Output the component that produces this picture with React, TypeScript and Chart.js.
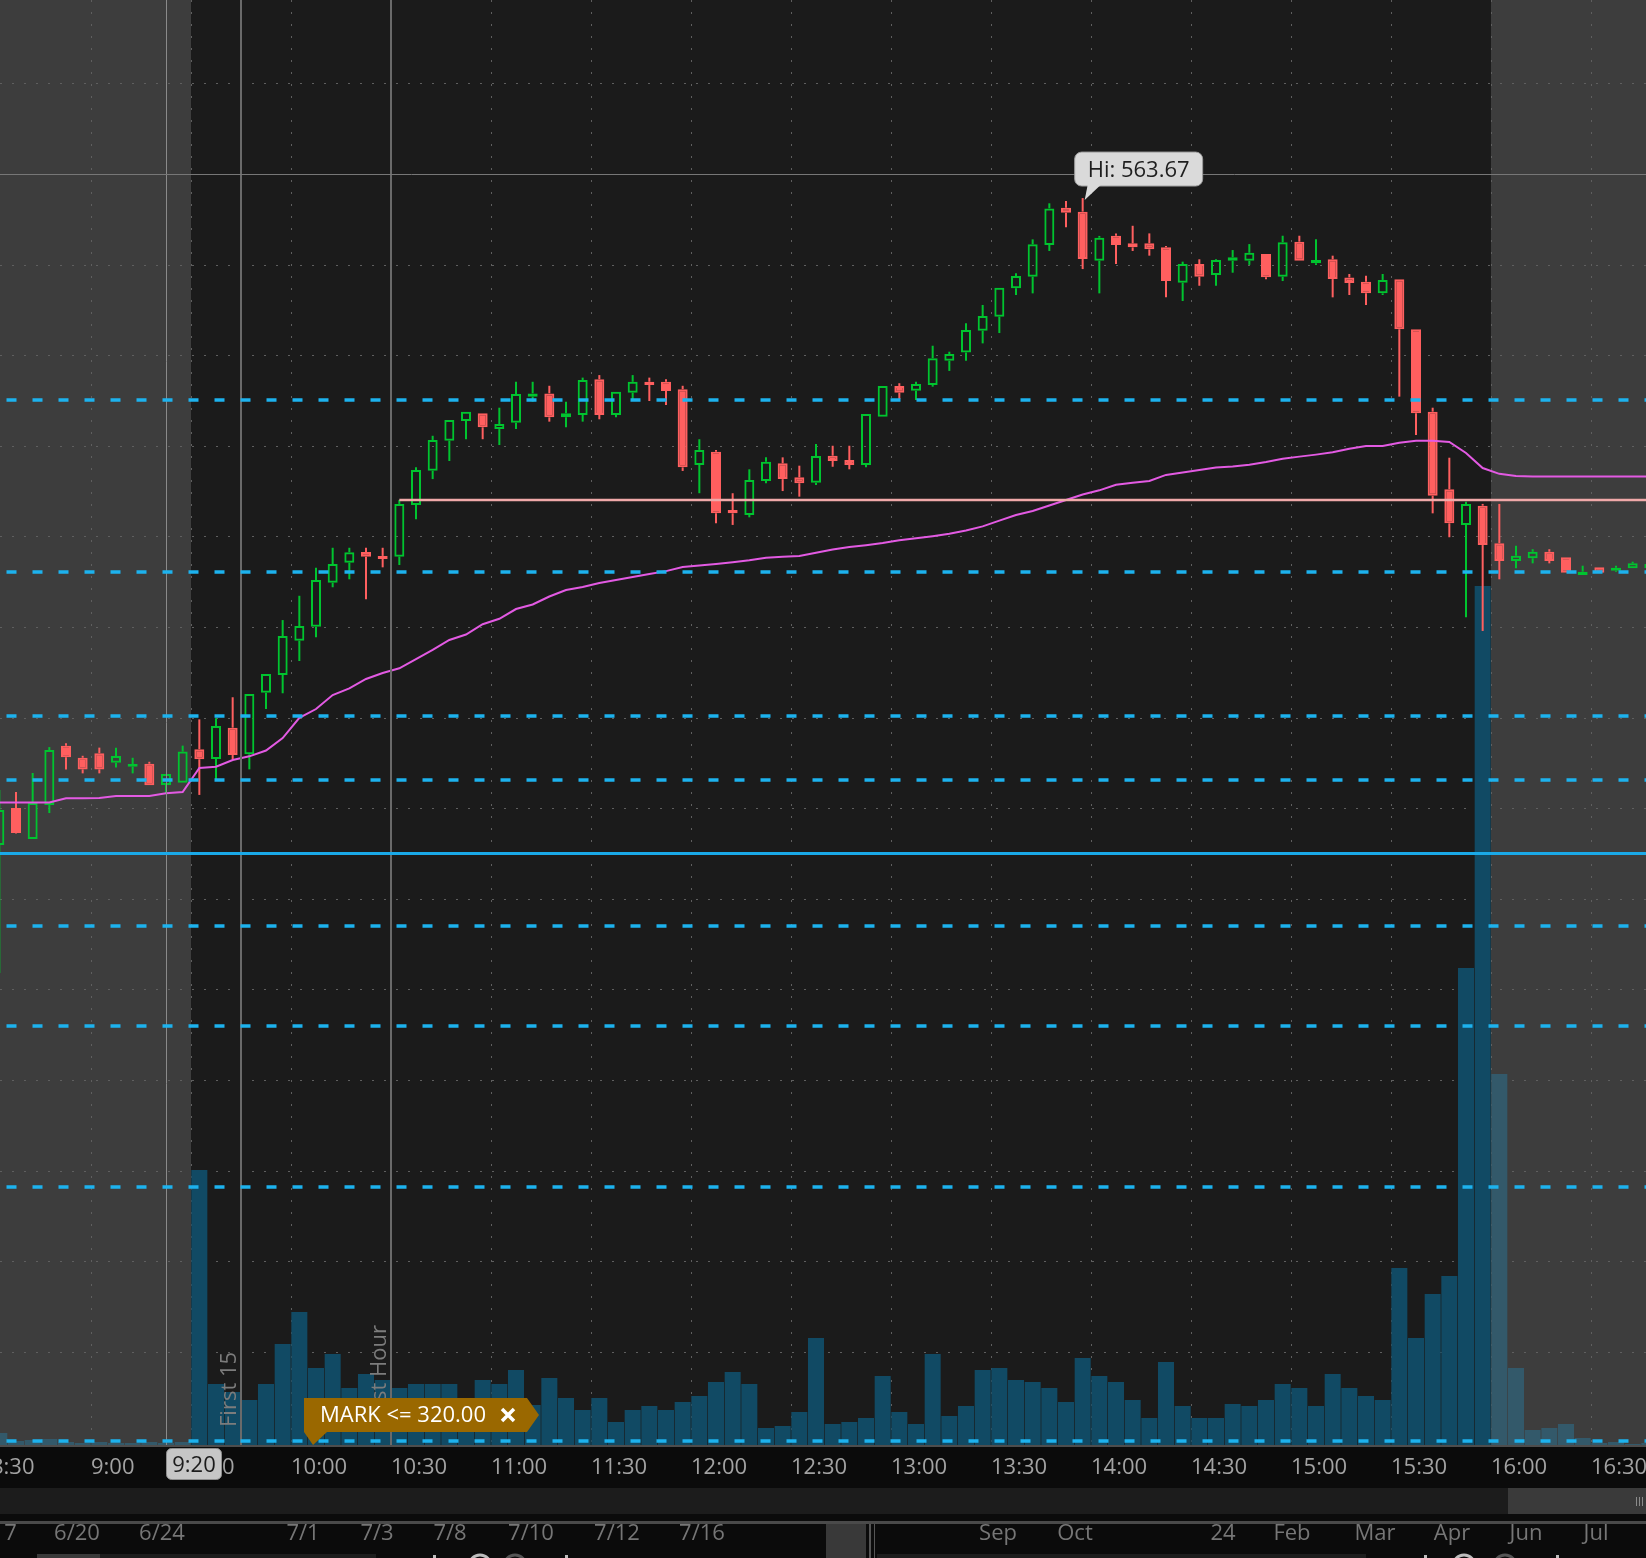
import { useEffect, useRef } from "react";
import { Chart, registerables } from "chart.js";

Chart.register(...registerables);

// ---------- DATA ----------
const times = [
  "08:30","08:35","08:40","08:45","08:50","08:55","09:00","09:05","09:10","09:15","09:20","09:25",
  "09:30","09:35","09:40","09:45","09:50","09:55","10:00","10:05","10:10","10:15","10:20","10:25",
  "10:30","10:35","10:40","10:45","10:50","10:55","11:00","11:05","11:10","11:15","11:20","11:25",
  "11:30","11:35","11:40","11:45","11:50","11:55","12:00","12:05","12:10","12:15","12:20","12:25",
  "12:30","12:35","12:40","12:45","12:50","12:55","13:00","13:05","13:10","13:15","13:20","13:25",
  "13:30","13:35","13:40","13:45","13:50","13:55","14:00","14:05","14:10","14:15","14:20","14:25",
  "14:30","14:35","14:40","14:45","14:50","14:55","15:00","15:05","15:10","15:15","15:20","15:25",
  "15:30","15:35","15:40","15:45","15:50","15:55","16:00","16:05","16:10","16:15","16:20","16:25",
  "16:30","16:35","16:40","16:45"
];
const open = [
  527.97,530.01,528.30,530.17,533.45,532.78,533.03,532.51,532.29,532.45,531.28,531.40,
  533.25,532.71,534.44,532.97,536.37,537.35,539.24,540.01,542.44,543.55,544.14,543.92,
  543.88,546.73,548.62,550.28,551.37,551.79,550.92,551.27,552.71,552.89,551.57,551.70,
  553.67,551.70,552.93,553.53,553.53,553.12,548.94,549.67,546.45,546.18,548.05,549.03,
  548.26,547.96,549.45,549.21,548.94,551.60,553.30,553.04,553.35,554.69,555.14,556.35,
  557.12,558.69,559.33,561.08,563.14,562.92,560.21,561.59,561.17,561.17,560.95,559.00,
  560.03,559.42,560.21,560.21,560.58,559.33,561.26,560.07,560.29,559.29,559.05,558.41,
  559.19,556.43,551.88,547.60,545.63,546.69,544.62,543.64,543.79,544.15,543.84,542.87,
  543.29,543.10,543.24,543.25
];
const high = [
  531.00,530.89,531.94,533.37,533.58,532.89,533.34,533.34,532.78,532.56,531.88,533.45,
  534.90,534.96,536.12,536.30,537.40,540.38,541.72,543.27,544.37,544.37,544.37,544.37,
  547.01,548.81,550.55,551.42,551.88,551.79,552.10,553.53,553.53,553.31,552.43,553.76,
  553.90,552.98,553.90,553.76,553.67,553.31,550.36,549.77,547.38,548.70,549.36,549.36,
  548.90,550.10,550.00,550.00,551.75,553.30,553.45,553.53,555.52,555.19,556.76,557.77,
  558.72,559.52,561.39,563.38,563.51,563.67,561.58,561.72,562.14,561.72,561.02,560.16,
  560.29,560.29,560.80,561.13,560.58,561.59,561.59,561.39,560.49,559.48,559.38,559.48,
  559.19,556.43,552.10,549.34,546.91,546.79,546.79,544.48,544.29,544.29,543.84,543.38,
  543.29,543.38,543.60,543.58
];
const low = [
  520.90,528.60,528.30,529.73,532.14,531.92,531.92,532.25,531.92,531.26,530.82,531.40,
  530.73,531.59,532.70,532.14,535.47,536.34,538.12,539.43,542.19,542.63,541.53,543.29,
  543.42,545.94,548.16,549.16,550.36,550.36,550.04,550.92,552.43,551.33,551.02,551.33,
  551.46,551.57,552.52,552.47,552.25,548.61,547.38,545.72,545.63,546.05,547.93,547.50,
  547.19,547.83,548.84,548.70,548.81,551.60,552.58,552.52,553.26,554.13,554.69,555.65,
  556.22,558.32,558.41,560.75,562.06,559.75,558.41,560.03,560.75,560.49,558.19,557.99,
  558.83,558.83,559.55,559.98,559.19,559.09,560.21,559.98,558.19,558.32,557.77,558.32,
  552.71,550.59,546.27,544.95,540.53,539.78,542.63,543.24,543.51,543.51,542.99,542.87,
  542.99,543.05,543.24,543.25
];
const close = [
  529.90,528.63,530.28,533.21,532.81,532.14,532.14,532.88,532.44,531.26,531.88,533.12,
  532.70,534.53,532.93,536.30,537.40,539.50,540.05,542.59,543.47,544.12,543.88,543.75,
  546.79,548.66,550.32,551.42,551.88,551.02,551.20,552.86,552.89,551.57,551.79,553.63,
  551.70,552.98,553.53,553.35,553.02,548.81,549.77,546.27,546.27,548.11,549.12,548.16,
  547.93,549.43,549.16,548.94,551.75,553.30,552.93,553.41,554.83,555.06,556.39,557.16,
  558.72,559.37,561.12,563.10,562.86,560.31,561.48,561.08,560.95,560.84,559.09,560.03,
  559.33,560.25,560.40,560.65,559.30,561.23,560.21,560.25,559.20,558.98,558.41,559.15,
  556.43,551.79,547.24,545.72,546.79,544.52,543.64,543.93,544.15,543.64,542.99,543.05,
  542.99,543.27,543.51,543.47
];
// volume in thousands of shares
const volume = [
  24,8,10,12,6,4,6,4,4,6,4,6,
  550,122,106,90,122,202,266,154,182,114,142,130,
  114,122,122,122,70,130,122,150,80,134,94,70,
  94,46,70,78,70,86,98,126,146,122,34,38,
  66,214,42,46,54,138,66,42,182,58,78,150,
  154,130,126,114,86,174,138,126,90,54,166,78,
  54,54,82,78,90,122,114,78,142,114,98,90,
  354,214,302,338,954,1718,742,154,30,34,42,14,
  4,6,2,4
];
const vwap = [
  530.31,530.31,530.31,530.31,530.54,530.54,530.56,530.67,530.67,530.67,530.82,530.89,
  532.22,532.29,532.66,532.86,533.18,533.87,534.98,535.47,536.24,536.61,537.13,537.46,
  537.72,538.23,538.73,539.28,539.58,540.15,540.45,540.99,541.24,541.68,542.04,542.20,
  542.43,542.59,542.76,542.92,543.08,543.31,543.39,543.47,543.57,543.68,543.82,543.88,
  543.92,544.10,544.27,544.41,544.51,544.63,544.78,544.89,545.01,545.14,545.32,545.55,
  545.87,546.18,546.40,546.70,547.01,547.31,547.54,547.85,547.96,548.06,548.39,548.52,
  548.66,548.80,548.86,548.95,549.10,549.28,549.40,549.51,549.64,549.84,549.98,549.99,
  550.17,550.28,550.28,550.21,549.60,548.77,548.45,548.33,548.30,548.30,548.30,548.30,
  548.30,548.30,548.30,548.30
];

const axisTimes = ["8:30","9:00","9:30","10:00","10:30","11:00","11:30","12:00","12:30","13:00","13:30","14:00","14:30","15:00","15:30","16:00","16:30"];
const priceGrid = [570,565,560,555,550,545,540,535,530,525,520,515,510,505,500];
const levels = [552.52,543.03,535.09,531.55,523.50,517.98,509.09,495.07];
const pivotLevel = 527.50;
const firstHourHigh = 547.01;
const firstHourHighTime = "10:30";
const hiValue = 563.67;
const hiTime = "13:55";
const cursorTime = "09:20";
const cursorPrice = 565.0;
const sessionOpen = "09:30";
const sessionClose = "16:00";
const first15End = "09:45";
const firstHourEnd = "10:30";
const alertText = "MARK <= 320.00";
const navDates = ["6/17","6/20","6/24","7/1","7/3","7/8","7/10","7/12","7/16","Sep","Oct","24","Feb","Mar","Apr","Jun","Jul"];

// ---------- LAYOUT ----------
const W = 1646;
const H = 1558;
const PLOT_BOTTOM = 1445;
const navX = [-6,77,162,303,377,450,531,617,702,998,1075,1223,1292,1375,1452,1526,1596];
const FONT = '22px "Open Sans", "DejaVu Sans", sans-serif';
const GREEN = "#00c42f";
const RED = "#ff5f5f";

const toMin = (t: string) => {
  const [h, m] = t.split(":").map(Number);
  return h * 60 + m;
};
const timeLabel = (t: string) => t.replace(/^0/, "");

const tosPlugin = {
  id: "tos",
  beforeDatasetsDraw(chart: any) {
    const { ctx, chartArea: a, scales } = chart;
    const x = scales.x, y = scales.y;
    ctx.save();
    ctx.fillStyle = "#0b0b0b";
    ctx.fillRect(0, 0, chart.width, chart.height);
    ctx.fillStyle = "#1b1b1b";
    ctx.fillRect(a.left, a.top, a.right - a.left, a.bottom - a.top);
    const s0 = x.getPixelForValue(toMin(sessionOpen));
    const s1 = x.getPixelForValue(toMin(sessionClose));
    ctx.fillStyle = "#3d3d3d";
    ctx.fillRect(a.left, a.top, s0 - a.left, a.bottom - a.top);
    ctx.fillRect(s1, a.top, a.right - s1, a.bottom - a.top);
    ctx.strokeStyle = "#5f5f5f";
    ctx.lineWidth = 1;
    ctx.setLineDash([2, 10]);
    for (const t of axisTimes) {
      const px = Math.round(x.getPixelForValue(toMin(t))) + 0.5;
      ctx.beginPath();
      ctx.moveTo(px, a.top);
      ctx.lineTo(px, a.bottom);
      ctx.stroke();
    }
    for (const p of priceGrid) {
      const py = Math.round(y.getPixelForValue(p)) + 0.5;
      ctx.beginPath();
      ctx.moveTo(a.left, py);
      ctx.lineTo(a.right, py);
      ctx.stroke();
    }
    ctx.restore();
  },
  afterDatasetsDraw(chart: any) {
    const { ctx, chartArea: a, scales } = chart;
    const x = scales.x, y = scales.y;
    ctx.save();
    ctx.beginPath();
    ctx.rect(a.left, a.top, a.right - a.left, a.bottom - a.top);
    ctx.clip();

    // session marker lines
    ctx.strokeStyle = "#6a6a6a";
    ctx.lineWidth = 2;
    for (const t of [first15End, firstHourEnd]) {
      const px = x.getPixelForValue(toMin(t));
      ctx.beginPath();
      ctx.moveTo(px, a.top);
      ctx.lineTo(px, a.bottom);
      ctx.stroke();
    }
    // crosshair
    ctx.strokeStyle = "#8a8a8a";
    ctx.lineWidth = 1;
    const cx = Math.round(x.getPixelForValue(toMin(cursorTime) + 2.5)) + 0.5;
    ctx.beginPath();
    ctx.moveTo(cx, a.top);
    ctx.lineTo(cx, a.bottom);
    ctx.stroke();
    ctx.strokeStyle = "#777777";
    const cy = Math.round(y.getPixelForValue(cursorPrice)) + 0.5;
    ctx.beginPath();
    ctx.moveTo(a.left, cy);
    ctx.lineTo(a.right, cy);
    ctx.stroke();

    // dashed price levels
    ctx.strokeStyle = "#1db2ee";
    ctx.lineWidth = 3.5;
    ctx.setLineDash([10, 16]);
    ctx.lineDashOffset = -6.5;
    for (const p of levels) {
      const py = y.getPixelForValue(p);
      ctx.beginPath();
      ctx.moveTo(a.left, py);
      ctx.lineTo(a.right, py);
      ctx.stroke();
    }
    ctx.setLineDash([]);
    // solid key level
    ctx.strokeStyle = "#1aa9e8";
    ctx.lineWidth = 3;
    const ky = y.getPixelForValue(pivotLevel);
    ctx.beginPath();
    ctx.moveTo(a.left, ky);
    ctx.lineTo(a.right, ky);
    ctx.stroke();
    // first hour high
    ctx.strokeStyle = "#f0a9a9";
    ctx.lineWidth = 2.5;
    const fy = y.getPixelForValue(firstHourHigh);
    const fx = x.getPixelForValue(toMin(firstHourHighTime) + 2.5);
    ctx.beginPath();
    ctx.moveTo(fx, fy);
    ctx.lineTo(a.right, fy);
    ctx.stroke();

    // rotated session labels
    ctx.font = FONT;
    ctx.fillStyle = "#7c7c7c";
    ctx.textAlign = "left";
    ctx.textBaseline = "alphabetic";
    const rot = (txt: string, t: string) => {
      const px = x.getPixelForValue(toMin(t));
      ctx.save();
      ctx.translate(px - 5, a.bottom - 18);
      ctx.rotate(-Math.PI / 2);
      ctx.fillText(txt, 0, 0);
      ctx.restore();
    };
    rot("First 15", first15End);
    rot("First Hour", firstHourEnd);

    // Hi bubble
    const tx = x.getPixelForValue(toMin(hiTime) + 2.5) + 2;
    const ty = y.getPixelForValue(hiValue);
    const bx = tx - 10, bw = 128, bh = 34, by = ty - 46;
    ctx.fillStyle = "#dadada";
    ctx.strokeStyle = "#9c9c9c";
    ctx.lineWidth = 1;
    ctx.beginPath();
    ctx.roundRect(bx, by, bw, bh, 7);
    ctx.fill();
    ctx.stroke();
    ctx.beginPath();
    ctx.moveTo(tx + 3, by + bh - 1);
    ctx.lineTo(tx + 16, by + bh - 1);
    ctx.lineTo(tx, ty + 2);
    ctx.closePath();
    ctx.fill();
    ctx.fillStyle = "#1e1e1e";
    ctx.textAlign = "center";
    ctx.fillText("Hi: " + hiValue.toFixed(2), bx + bw / 2, by + 25);

    // MARK alert label
    const mb = a.bottom;
    ctx.fillStyle = "#9a6800";
    ctx.beginPath();
    ctx.moveTo(304, mb - 47);
    ctx.lineTo(527, mb - 47);
    ctx.lineTo(539, mb - 30);
    ctx.lineTo(527, mb - 13);
    ctx.lineTo(327, mb - 13);
    ctx.lineTo(313, mb);
    ctx.lineTo(304, mb - 13);
    ctx.closePath();
    ctx.fill();
    ctx.fillStyle = "#ffffff";
    ctx.textAlign = "left";
    ctx.fillText(alertText, 320, mb - 23);
    ctx.strokeStyle = "#ffffff";
    ctx.lineWidth = 3.5;
    ctx.beginPath();
    ctx.moveTo(502, mb - 36);
    ctx.lineTo(514, mb - 24);
    ctx.moveTo(514, mb - 36);
    ctx.lineTo(502, mb - 24);
    ctx.stroke();
    ctx.restore();
  },
  afterDraw(chart: any) {
    const { ctx, chartArea: a, scales } = chart;
    const x = scales.x;
    const w = chart.width, h = chart.height;
    ctx.save();
    ctx.fillStyle = "#0b0b0b";
    ctx.fillRect(0, a.bottom, w, h - a.bottom);
    ctx.fillStyle = "#4d4d4d";
    ctx.fillRect(0, a.bottom, w, 2);
    // scrollbar
    ctx.fillStyle = "#1c1c1c";
    ctx.fillRect(0, a.bottom + 43, w, 26);
    ctx.fillStyle = "#3a3a3a";
    ctx.fillRect(1508, a.bottom + 43, w - 1508, 26);
    ctx.fillStyle = "#8a8a8a";
    for (const gx of [1636, 1639, 1642]) ctx.fillRect(gx, a.bottom + 52, 1, 9);
    // separator
    ctx.fillStyle = "#4a4a4a";
    ctx.fillRect(0, a.bottom + 76, w, 3);

    // time axis labels
    ctx.font = FONT;
    ctx.textBaseline = "alphabetic";
    ctx.textAlign = "left";
    ctx.fillStyle = "#a2a2a2";
    for (const t of axisTimes) {
      const px = x.getPixelForValue(toMin(t));
      ctx.fillText(t, px, a.bottom + 29);
    }
    // cursor time box
    const cx = x.getPixelForValue(toMin(cursorTime) + 2.5);
    ctx.fillStyle = "#c6c6c6";
    ctx.strokeStyle = "#8e8e8e";
    ctx.lineWidth = 1;
    ctx.beginPath();
    ctx.roundRect(cx + 0.5, a.bottom + 3.5, 55, 31, 5);
    ctx.fill();
    ctx.stroke();
    ctx.fillStyle = "#1c1c1c";
    ctx.textAlign = "center";
    ctx.fillText(timeLabel(cursorTime), cx + 28, a.bottom + 27);

    // navigator
    ctx.fillStyle = "#393939";
    ctx.fillRect(826, a.bottom + 79, 40, h - a.bottom - 79);
    ctx.fillStyle = "#555555";
    ctx.fillRect(869, a.bottom + 79, 2, h - a.bottom - 79);
    ctx.fillRect(874, a.bottom + 79, 1, h - a.bottom - 79);
    ctx.save();
    ctx.beginPath();
    ctx.rect(0, a.bottom + 79, w, h - a.bottom - 79);
    ctx.clip();
    ctx.fillStyle = "#767676";
    ctx.textAlign = "center";
    navDates.forEach((d, i) => ctx.fillText(d, navX[i], a.bottom + 95));
    ctx.restore();
    // bottom tool strip tops
    ctx.fillStyle = "#3a3a3a";
    ctx.fillRect(37, h - 4, 63, 4);
    ctx.fillStyle = "#1d1d1d";
    ctx.fillRect(100, h - 4, 276, 4);
    ctx.fillRect(877, h - 4, 489, 4);
    ctx.lineWidth = 3;
    ctx.strokeStyle = "#bdbdbd";
    ctx.beginPath(); ctx.arc(480, h + 8, 11, 0, Math.PI * 2); ctx.stroke();
    ctx.beginPath(); ctx.arc(1464, h + 8, 11, 0, Math.PI * 2); ctx.stroke();
    ctx.strokeStyle = "#555555";
    ctx.beginPath(); ctx.arc(515, h + 8, 11, 0, Math.PI * 2); ctx.stroke();
    ctx.beginPath(); ctx.arc(1505, h + 8, 11, 0, Math.PI * 2); ctx.stroke();
    ctx.fillStyle = "#bdbdbd";
    for (const dx of [434, 566, 1425, 1557]) ctx.fillRect(dx - 1, h - 3, 3, 3);
    ctx.restore();
  },
};

export default function App() {
  const ref = useRef<HTMLCanvasElement | null>(null);
  useEffect(() => {
    document.body.style.margin = "0";
    document.body.style.background = "#0b0b0b";
    const canvas = ref.current;
    if (!canvas) return;
    const xs = times.map((t) => toMin(t) + 2.5);
    const up = close.map((c, i) => c >= open[i]);
    const col = up.map((u) => (u ? GREEN : RED));
    const sOpen = toMin(sessionOpen), sClose = toMin(sessionClose);
    const volCol = times.map((t) => {
      const m = toMin(t);
      return m >= sOpen && m < sClose ? "#114a64" : "#33596a";
    });
    const bodyData = xs.map((xv, i) => ({ x: xv, y: [open[i], close[i]] }));
    const upperWick = xs.map((xv, i) => ({ x: xv, y: [Math.max(open[i], close[i]), high[i]] }));
    const lowerWick = xs.map((xv, i) => ({ x: xv, y: [low[i], Math.min(open[i], close[i])] }));
    const volData = xs.map((xv, i) => ({ x: xv, y: volume[i] }));
    const vwapData = xs.map((xv, i) => ({ x: xv, y: vwap[i] }));

    // pixel calibration of the visible window
    const xMin = toMin("09:30") - 57.3;
    const xMax = xMin + (W / 100) * 30;
    const yMax = 574.6;
    const yMin = yMax - PLOT_BOTTOM / 18.12;

    const chart = new Chart(canvas, {
      type: "bar",
      data: {
        datasets: [
          {
            type: "line",
            label: "VWAP",
            data: vwapData,
            borderColor: "#e35ae3",
            borderWidth: 2,
            pointRadius: 0,
            tension: 0,
            yAxisID: "y",
            order: 1,
          } as any,
          {
            label: "Body",
            data: bodyData,
            backgroundColor: up.map((u) => (u ? "rgba(0,0,0,0)" : RED)),
            borderColor: col,
            borderWidth: 2,
            borderSkipped: false,
            barThickness: 10,
            minBarLength: 2,
            inflateAmount: 0,
            grouped: false,
            yAxisID: "y",
            order: 2,
          },
          {
            label: "Upper wick",
            data: upperWick,
            backgroundColor: col,
            borderWidth: 0,
            barThickness: 2,
            inflateAmount: 0,
            grouped: false,
            yAxisID: "y",
            order: 3,
          },
          {
            label: "Lower wick",
            data: lowerWick,
            backgroundColor: col,
            borderWidth: 0,
            barThickness: 2,
            inflateAmount: 0,
            grouped: false,
            yAxisID: "y",
            order: 3,
          },
          {
            label: "Volume",
            data: volData,
            backgroundColor: volCol,
            borderWidth: 0,
            barThickness: 16,
            inflateAmount: 0,
            grouped: false,
            yAxisID: "v",
            order: 10,
          },
        ],
      } as any,
      options: {
        responsive: false,
        animation: false,
        devicePixelRatio: 1,
        events: [],
        layout: { padding: { left: 0, right: 0, top: 0, bottom: H - PLOT_BOTTOM } },
        plugins: { legend: { display: false }, tooltip: { enabled: false } },
        scales: {
          x: { type: "linear", min: xMin, max: xMax, offset: false, bounds: "data", display: false },
          y: { type: "linear", min: yMin, max: yMax, display: false },
          v: { type: "linear", min: 0, max: PLOT_BOTTOM * 2, display: false },
        },
      } as any,
      plugins: [tosPlugin],
    });
    return () => chart.destroy();
  }, []);
  return (
    <div style={{ width: W, height: H, background: "#0b0b0b" }}>
      <canvas ref={ref} width={W} height={H} style={{ display: "block" }} />
    </div>
  );
}
